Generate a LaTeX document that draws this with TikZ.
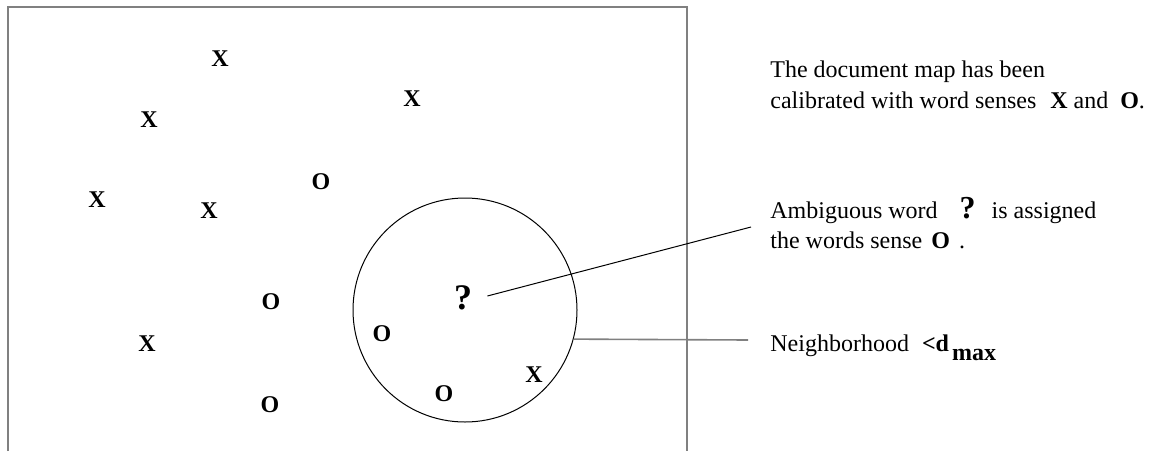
\documentclass[tikz,border=0pt]{standalone}
\usepackage{fontspec}
\setmainfont{Liberation Serif}
\usetikzlibrary{positioning,calc}
\tikzset{
	sensemark/.style={inner sep=0pt, font=\fontsize{12}{14}\selectfont\bfseries},
	querymark/.style={inner sep=0pt, font=\fontsize{18}{20}\selectfont\bfseries},
	note/.style={inner sep=0pt, anchor=base west, font=\fontsize{12}{15.5}\selectfont},
	thinline/.style={line width=0.5pt},
	greyline/.style={line width=0.8pt, draw=gray}
}

\begin{document}
\begin{tikzpicture}[x=0.5pt, y=-0.5pt]
		\useasboundingbox (0,0) rectangle (1151,451);
		
		%% -- document map frame (open at the bottom)
		\draw[greyline] (8,451) -- (8,7) -- (687,7) -- (687,451);
		
		%% -- calibrated senses X
		\node[sensemark] (x1) at (220,59)  {X};
		\node[sensemark] (x2) at (412,99)  {X};
		\node[sensemark] (x3) at (149,120) {X};
		\node[sensemark] (x4) at (97,200)  {X};
		\node[sensemark] (x5) at (209,211) {X};
		\node[sensemark] (x6) at (147,344) {X};
		\node[sensemark] (x7) at (534,375) {X};
		
		%% -- calibrated senses O
		\node[sensemark] (o1) at (321,182) {O};
		\node[sensemark] (o2) at (271,302) {O};
		\node[sensemark] (o3) at (382,334) {O};
		\node[sensemark] (o4) at (444,394) {O};
		\node[sensemark] (o5) at (270,405) {O};
		
		%% -- ambiguous word and its neighbourhood
		\node[querymark] (query) at (463,298) {?};
		\node[circle, draw, thinline, inner sep=0pt, minimum size=112pt]
		(hood) at (465,310) {};
		
		%% -- notes on the right
		\node[note] (calib1) at (770,77)  {The document map has been};
		\node[note] (calib2) at (770,108)
		{calibrated with word senses\hspace{7pt}\textbf{X} and\hspace{6pt}\textbf{O}.};
		
		\node[note] (ambig1) at (770,218)
		{Ambiguous word\hspace{11pt}{\fontsize{16}{16}\selectfont\bfseries ?}\hspace{8pt}is assigned};
		\node[note] (ambig2) at (770,248)
		{the words sense\hspace{4.5pt}\textbf{O}\hspace{4.5pt}.};
		
		\node[note] (dmax) at (770,351)
		{Neighborhood\hspace{6.5pt}\textbf{<d}\hspace{1.5pt}\raisebox{-4.5pt}{\textbf{max}}};
		
		%% -- leader lines
		\coordinate (qend) at (751,227);
		\coordinate (hend) at (748,340);
		\draw[thinline] ([xshift=7.5pt,yshift=1pt]query.east) -- (qend);
		\draw[greyline] (hood.-15.5) -- (hend);
		
\end{tikzpicture}
\end{document}
